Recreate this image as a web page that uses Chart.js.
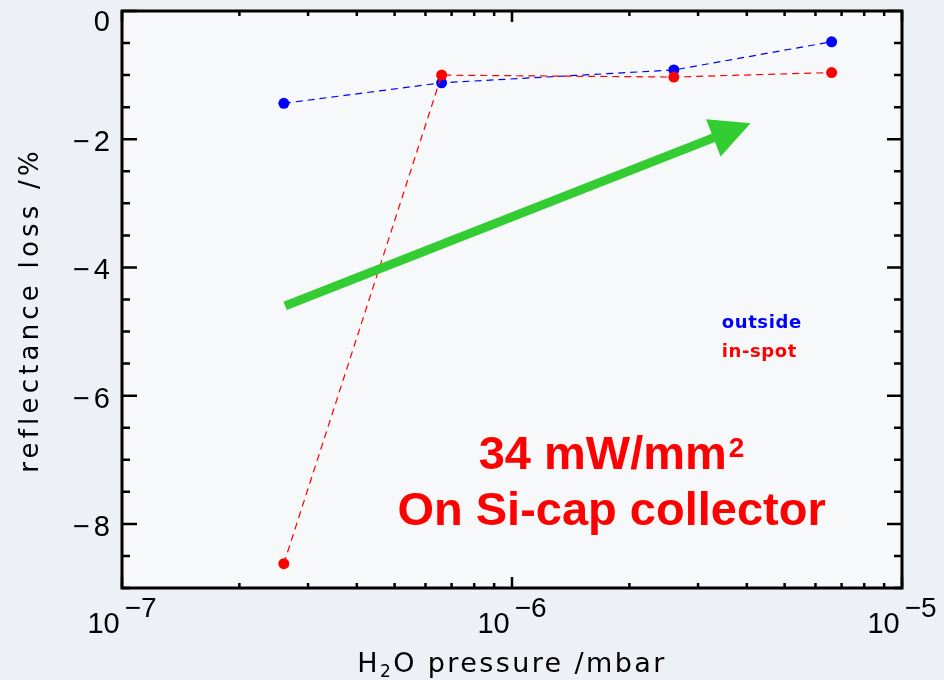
<!DOCTYPE html>
<html>
<head>
<meta charset="utf-8">
<script src="https://cdn.jsdelivr.net/npm/chart.js@4.4.0/dist/chart.umd.min.js"></script>
<style>
  html, body { margin: 0; padding: 0; background: #edf1f5; }
  canvas { display: block; }
</style>
</head>
<body>
<canvas id="chart" width="944" height="680"></canvas>
<script>
// values
const pressure = [2.6e-7, 6.6e-7, 2.6e-6, 6.6e-6];   // mbar
const outside = [-1.44, -1.12, -0.92, -0.48];
const inSpot = [-8.62, -1.00, -1.03, -0.96];
const yTicks = [0, -2, -4, -6, -8];
const xDecades = [-7, -6, -5];
// green arrow, in data units [pressure, loss]
const arrowFrom = [2.62e-7, -4.60];
const arrowTo = [4.09e-6, -1.75];
// note text anchors, in data units
const noteX = 1.8e-6;
const noteY = [-7.15, -8.02];
const legendX = 3.45e-6;
const legendY = [-4.87, -5.32];

const helv = "'Liberation Sans', Arial, sans-serif";
const roundFont = "'DejaVu Sans', sans-serif";

const frame = {
  id: 'frame',
  beforeDraw(chart) {
    const {ctx, chartArea: a} = chart;
    ctx.save();
    ctx.fillStyle = '#edf1f5';
    ctx.fillRect(0, 0, chart.width, chart.height);
    ctx.fillStyle = '#f6f8fa';
    ctx.fillRect(a.left, a.top, a.right - a.left, a.bottom - a.top);
    ctx.restore();
  },
  afterDatasetsDraw(chart) {
    const {ctx} = chart;
    const xs = chart.scales.x, ys = chart.scales.y;
    ctx.save();

    // arrow
    const x0 = xs.getPixelForValue(arrowFrom[0]), y0 = ys.getPixelForValue(arrowFrom[1]);
    const x1 = xs.getPixelForValue(arrowTo[0]), y1 = ys.getPixelForValue(arrowTo[1]);
    const len = Math.hypot(x1 - x0, y1 - y0);
    const ux = (x1 - x0) / len, uy = (y1 - y0) / len;
    const headLen = 40, headHalf = 20;
    const bx = x1 - ux * headLen, by = y1 - uy * headLen;
    ctx.strokeStyle = '#33cc33';
    ctx.fillStyle = '#33cc33';
    ctx.lineWidth = 9;
    ctx.lineCap = 'butt';
    ctx.beginPath();
    ctx.moveTo(x0, y0);
    ctx.lineTo(bx + ux * 2, by + uy * 2);
    ctx.stroke();
    ctx.beginPath();
    ctx.moveTo(x1, y1);
    ctx.lineTo(bx - uy * headHalf, by + ux * headHalf);
    ctx.lineTo(bx + uy * headHalf, by - ux * headHalf);
    ctx.closePath();
    ctx.fill();

    // note text
    const nx = xs.getPixelForValue(noteX);
    ctx.fillStyle = '#ff0000';
    ctx.textBaseline = 'alphabetic';
    ctx.font = 'bold 47px ' + helv;
    const t1 = '34 mW/mm';
    const w1 = ctx.measureText(t1).width;
    ctx.font = 'bold 28px ' + helv;
    const wSup = ctx.measureText('2').width;
    const start = nx - (w1 + wSup + 2) / 2;
    const b1 = ys.getPixelForValue(noteY[0]);
    ctx.font = 'bold 47px ' + helv;
    ctx.textAlign = 'left';
    ctx.fillText(t1, start, b1);
    ctx.font = 'bold 28px ' + helv;
    ctx.fillText('2', start + w1 + 2, b1 - 12);
    ctx.font = 'bold 47px ' + helv;
    ctx.textAlign = 'center';
    ctx.fillText('On Si-cap collector', nx, ys.getPixelForValue(noteY[1]));

    // legend text
    const lx = xs.getPixelForValue(legendX);
    ctx.textAlign = 'left';
    ctx.textBaseline = 'middle';
    ctx.font = 'bold 18px ' + roundFont;
    ctx.letterSpacing = '0.6px';
    ctx.fillStyle = '#0000ff';
    ctx.fillText('outside', lx, ys.getPixelForValue(legendY[0]));
    ctx.fillStyle = '#ff0000';
    ctx.fillText('in-spot', lx, ys.getPixelForValue(legendY[1]));
    ctx.restore();
  },
  afterDraw(chart) {
    const {ctx, chartArea: a} = chart;
    const xs = chart.scales.x, ys = chart.scales.y;
    ctx.save();
    ctx.strokeStyle = '#000';

    // ticks, pointing inward on all four sides
    ctx.lineWidth = 2.5;
    ctx.beginPath();
    for (let d = xDecades[0]; d <= xDecades[xDecades.length - 1]; d++) {
      for (let k = 1; k <= 9; k++) {
        const v = k * Math.pow(10, d);
        if (v < xs.min || v > xs.max) continue;
        const px = xs.getPixelForValue(v);
        const L = k === 1 ? 11 : 5;
        ctx.moveTo(px, a.bottom); ctx.lineTo(px, a.bottom - L);
        ctx.moveTo(px, a.top); ctx.lineTo(px, a.top + L);
      }
    }
    for (let v = ys.min; v <= ys.max; v += 0.5) {
      const py = ys.getPixelForValue(v);
      const L = yTicks.includes(v) ? 15 : 8;
      ctx.moveTo(a.left, py); ctx.lineTo(a.left + L, py);
      ctx.moveTo(a.right, py); ctx.lineTo(a.right - L, py);
    }
    ctx.stroke();

    // box
    ctx.lineWidth = 3;
    ctx.strokeRect(a.left, a.top, a.right - a.left, a.bottom - a.top);

    // y tick labels
    ctx.fillStyle = '#000';
    ctx.font = '29px ' + helv;
    ctx.textAlign = 'right';
    ctx.textBaseline = 'middle';
    yTicks.forEach(v => {
      const py = Math.max(ys.getPixelForValue(v) + 4, 23);
      if (v < 0) {
        ctx.fillText(String(-v), a.left - 12, py);
        const wd = ctx.measureText(String(-v)).width;
        ctx.fillText('\u2212', a.left - 12 - wd - 4, py);
      } else {
        ctx.fillText(String(v), a.left - 12, py);
      }
    });

    // x tick labels 10^n
    ctx.textAlign = 'left';
    ctx.textBaseline = 'alphabetic';
    xDecades.forEach(d => {
      const px = xs.getPixelForValue(Math.pow(10, d));
      ctx.font = '29px ' + helv;
      const wb = ctx.measureText('10').width;
      ctx.font = '28px ' + helv;
      const sup = String(d).replace('-', '\u2212');
      const ws = ctx.measureText(sup).width;
      const x0 = px - (wb + 5 + ws) / 2;
      ctx.font = '29px ' + helv;
      ctx.fillText('10', x0, a.bottom + 45);
      ctx.font = '28px ' + helv;
      ctx.fillText(sup, x0 + wb + 5, a.bottom + 29);
    });

    // axis titles
    ctx.letterSpacing = '2.4px';
    ctx.font = '27px ' + roundFont;
    const parts = ['H', '2', 'O pressure /mbar'];
    const wH = ctx.measureText(parts[0]).width;
    const wO = ctx.measureText(parts[2]).width;
    ctx.font = '17px ' + roundFont;
    const w2 = ctx.measureText(parts[1]).width;
    const cx = (a.left + a.right) / 2;
    let tx = cx - (wH + w2 + wO) / 2;
    const base = a.bottom + 84;
    ctx.font = '27px ' + roundFont;
    ctx.fillText(parts[0], tx, base);
    ctx.font = '17px ' + roundFont;
    ctx.fillText(parts[1], tx + wH, base + 5);
    ctx.font = '27px ' + roundFont;
    ctx.fillText(parts[2], tx + wH + w2, base);

    ctx.translate(31, 310);
    ctx.rotate(-Math.PI / 2);
    ctx.textAlign = 'center';
    ctx.textBaseline = 'middle';
    ctx.font = '26px ' + roundFont;
    ctx.letterSpacing = '4.2px';
    ctx.fillText('reflectance loss /%', 0, 0);
    ctx.restore();
  }
};

new Chart(document.getElementById('chart'), {
  type: 'line',
  data: {
    datasets: [
      {
        label: 'outside',
        data: pressure.map((x, i) => ({x: x, y: outside[i]})),
        borderColor: '#0000ff',
        backgroundColor: '#0000ff',
        borderWidth: 1.2,
        borderDash: [7, 5],
        pointRadius: 5.5,
        pointBorderWidth: 0,
        order: 1
      },
      {
        label: 'in-spot',
        data: pressure.map((x, i) => ({x: x, y: inSpot[i]})),
        borderColor: '#ff0000',
        backgroundColor: '#ff0000',
        borderWidth: 1.2,
        borderDash: [7, 5],
        pointRadius: 5.5,
        pointBorderWidth: 0,
        order: 0
      }
    ]
  },
  options: {
    responsive: false,
    animation: false,
    layout: {padding: {left: 122, right: 42, top: 11, bottom: 92}},
    plugins: {legend: {display: false}, tooltip: {enabled: false}},
    scales: {
      x: {type: 'logarithmic', min: 1e-7, max: 1e-5, display: false},
      y: {type: 'linear', min: -9, max: 0, display: false}
    }
  },
  plugins: [frame]
});
</script>
</body>
</html>
